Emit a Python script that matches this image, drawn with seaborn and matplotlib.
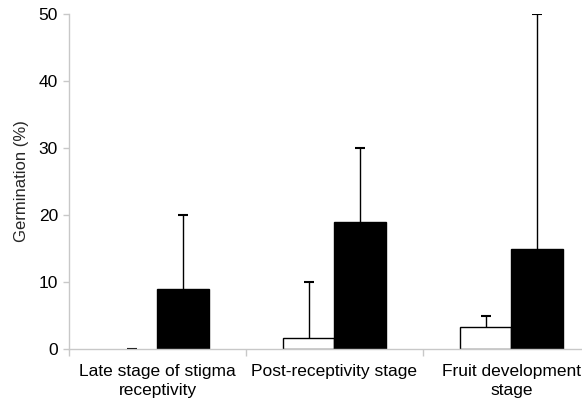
import matplotlib
matplotlib.use("Agg")
import matplotlib.pyplot as plt
import seaborn as sns
import pandas as pd
import numpy as np

categories = ["Late stage of stigma\nreceptivity", "Post-receptivity stage", "Fruit development\nstage"]
groups = ["open", "filled"]
open_values = [0.0, 1.7, 3.3]
filled_values = [9.0, 19.0, 15.0]
open_err = [0.0, 8.3, 1.7]
filled_err = [11.0, 11.0, 35.0]
y_ticks = [0, 10, 20, 30, 40, 50]

sns.set_theme(style="white")
plt.rcParams['font.family'] = ['Liberation Sans', 'DejaVu Sans']

df = pd.DataFrame({
    "stage": categories * 2,
    "group": [groups[0]] * 3 + [groups[1]] * 3,
    "value": open_values + filled_values,
    "err": open_err + filled_err,
})

fig = plt.figure(figsize=(5.82, 4.05), dpi=100)
ax = fig.add_axes([69 / 582, 56 / 405, (600 - 69) / 582, 335 / 405])

sns.barplot(data=df, x="stage", y="value", hue="group", hue_order=groups,
            order=categories, palette=["white", "black"], edgecolor="black",
            linewidth=1.0, width=0.58, errorbar=None, legend=False, ax=ax)

# error bars (upper only), matched to bars via patch geometry
patches = [p for p in ax.patches if p.get_width() > 0]
patches.sort(key=lambda p: p.get_x())
order_vals = []
order_errs = []
for i in range(3):
    order_vals += [open_values[i], filled_values[i]]
    order_errs += [open_err[i], filled_err[i]]
xs = [p.get_x() + p.get_width() / 2 for p in patches]
for p in patches:
    if p.get_height() == 0:
        p.set_linewidth(0)
eb = ax.errorbar(xs, order_vals, yerr=[np.zeros(len(order_errs)), order_errs],
                 fmt="none", ecolor="black", elinewidth=1.0, capsize=3.6, capthick=1.5)
caps = eb.lines[1]
if len(caps) == 2:
    caps[0].set_visible(False)

ax.set_ylim(0, 50)
ax.set_yticks(y_ticks)
ax.set_xlim(-0.5, 2.5)
ax.set_xlabel("")
ax.set_ylabel("Germination (%)", fontsize=12, labelpad=7)

for s in ["top", "right"]:
    ax.spines[s].set_visible(False)
for s in ["left", "bottom"]:
    ax.spines[s].set_color("#c8c8c8")
    ax.spines[s].set_linewidth(1.0)

ax.tick_params(axis="y", which="major", left=True, length=4, width=1,
               color="#c8c8c8", labelsize=12.5, pad=4, labelcolor="black")
ax.tick_params(axis="x", which="major", bottom=True, length=0, labelsize=12.5,
               pad=11, labelcolor="black")
ax.set_xticks([-0.5, 0.5, 1.5, 2.5], minor=True)
ax.tick_params(axis="x", which="minor", bottom=True, length=5, width=1,
               color="#c8c8c8")
for lab in ax.get_xticklabels():
    lab.set_linespacing(1.3)

fig.savefig("out.png", dpi=100)
